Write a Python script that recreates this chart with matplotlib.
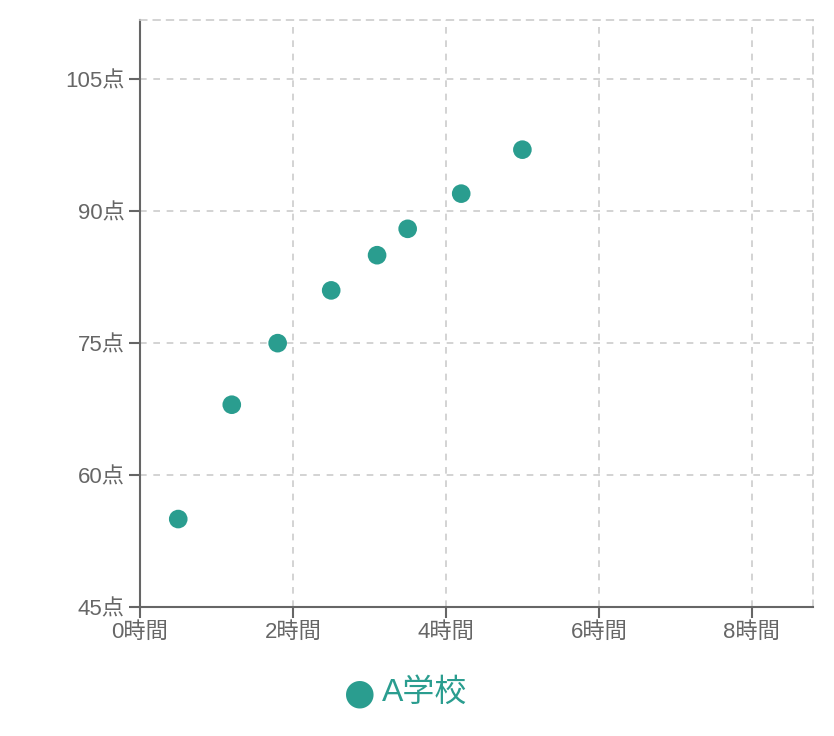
import numpy as np
import matplotlib
matplotlib.use("Agg")
import matplotlib.pyplot as plt

plt.rcParams['font.family'] = ['Liberation Sans', 'Noto Sans CJK JP', 'DejaVu Sans']

hours = [0.5, 1.2, 1.8, 2.5, 3.1, 3.5, 4.2, 5.0]
scores = [55, 68, 75, 81, 85, 88, 92, 97]
series_name = "A学校"
x_ticks = [0, 2, 4, 6, 8]
y_ticks = [45, 60, 75, 90, 105]

teal = "#2a9d8f"
text_grey = "#666666"
grid_grey = "#cccccc"

fig = plt.figure(figsize=(8.34, 7.36), dpi=100)
W, H = 834, 736
ax = fig.add_axes([140 / W, (H - 607) / H, (813 - 140) / W, (607 - 19.5) / H])

ax.scatter(hours, scores, s=180, color=teal, edgecolors='none', zorder=3)

ax.set_xlim(0, 8.8)
ax.set_ylim(45, 111.8)
ax.set_xticks(x_ticks)
ax.set_xticklabels([f"{t}時間" for t in x_ticks])
ax.set_yticks(y_ticks)
ax.set_yticklabels([f"{t}点" for t in y_ticks])

ax.grid(True, color=grid_grey, linestyle=(0, (4, 4)), linewidth=1.2)
ax.set_axisbelow(True)

for side in ('top', 'right'):
    ax.spines[side].set_color(grid_grey)
    ax.spines[side].set_linestyle((0, (4, 4)))
    ax.spines[side].set_linewidth(1.2)
for side in ('left', 'bottom'):
    ax.spines[side].set_color(text_grey)
    ax.spines[side].set_linewidth(1.5)

ax.tick_params(axis='both', colors=text_grey, labelsize=16, length=8, width=1.5)
ax.tick_params(axis='x', pad=3)
ax.tick_params(axis='y', pad=3)

fig.text(360 / W, 1 - 693 / H, "●", color=teal, fontsize=26,
         ha='center', va='center', family=['DejaVu Sans'])
fig.text(382 / W, 1 - 693 / H, series_name, color=teal, fontsize=23,
         ha='left', va='center')

fig.savefig("out.png", dpi=100)
